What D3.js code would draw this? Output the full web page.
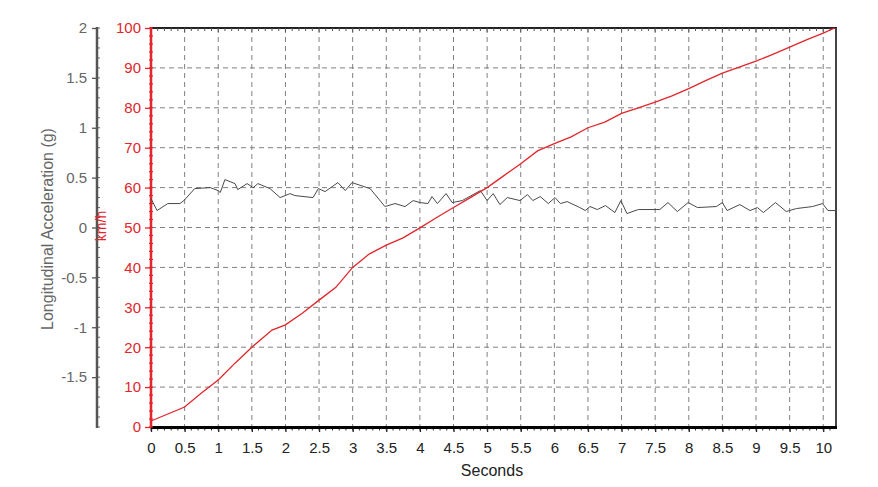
<!DOCTYPE html>
<html>
<head>
<meta charset="utf-8">
<script src="https://cdn.jsdelivr.net/npm/d3@7"></script>
<style>
  html, body { margin: 0; padding: 0; background: #fff; }
  svg { display: block; font-family: "Liberation Sans", Arial, sans-serif; }
</style>
</head>
<body>
<svg id="chart" width="878" height="487"></svg>
<script>
// ---- Data ----
const speedTime = [0, 0.5, 0.75, 1.0, 1.25, 1.5, 1.8, 2.0, 2.25, 2.5, 2.75, 3.0, 3.25, 3.5, 3.75, 4.0, 4.25, 4.5, 4.75, 5.0, 5.25, 5.5, 5.75, 6.0, 6.25, 6.5, 6.75, 7.0, 7.25, 7.5, 7.75, 8.0, 8.25, 8.5, 8.75, 9.0, 9.25, 9.5, 9.75, 10.0, 10.17];
const speedKmh  = [1.5, 5, 8.5, 11.8, 16, 20, 24.3, 25.6, 28.5, 31.8, 35, 40, 43.4, 45.6, 47.4, 49.9, 52.5, 55, 57.5, 60, 63, 66, 69.2, 71, 72.7, 75, 76.4, 78.6, 80, 81.4, 83, 84.8, 86.8, 88.7, 90.2, 91.7, 93.4, 95.2, 97, 98.7, 100];

const accelTime = [0, 0.09, 0.25, 0.43, 0.49, 0.65, 0.88, 1.00, 1.03, 1.10, 1.25, 1.29, 1.43, 1.52, 1.59, 1.77, 1.92, 2.07, 2.14, 2.41, 2.49, 2.59, 2.78, 2.89, 2.99, 3.26, 3.48, 3.63, 3.78, 3.90, 4.00, 4.12, 4.18, 4.26, 4.39, 4.48, 4.63, 4.90, 5.00, 5.09, 5.19, 5.30, 5.49, 5.60, 5.68, 5.79, 5.91, 6.01, 6.09, 6.19, 6.38, 6.46, 6.53, 6.64, 6.76, 6.90, 6.99, 7.08, 7.25, 7.57, 7.69, 7.83, 7.99, 8.13, 8.41, 8.50, 8.57, 8.76, 8.91, 9.02, 9.11, 9.29, 9.45, 9.60, 9.84, 9.99, 10.07, 10.19];
const accelG    = [0.29, 0.17, 0.24, 0.24, 0.27, 0.39, 0.40, 0.37, 0.35, 0.48, 0.44, 0.38, 0.44, 0.40, 0.44, 0.39, 0.30, 0.34, 0.32, 0.30, 0.39, 0.36, 0.45, 0.37, 0.45, 0.39, 0.21, 0.24, 0.21, 0.27, 0.25, 0.24, 0.31, 0.24, 0.34, 0.25, 0.27, 0.37, 0.27, 0.34, 0.23, 0.30, 0.27, 0.33, 0.27, 0.31, 0.24, 0.30, 0.24, 0.26, 0.20, 0.17, 0.21, 0.18, 0.22, 0.15, 0.27, 0.14, 0.18, 0.18, 0.25, 0.16, 0.25, 0.20, 0.21, 0.25, 0.17, 0.23, 0.17, 0.20, 0.15, 0.25, 0.16, 0.19, 0.21, 0.24, 0.17, 0.17];

const xTickValues = [0, 0.5, 1, 1.5, 2, 2.5, 3, 3.5, 4, 4.5, 5, 5.5, 6, 6.5, 7, 7.5, 8, 8.5, 9, 9.5, 10];
const xTickLabels = ["0", "0.5", "1", "1.5", "2", "2.5", "3", "3.5", "4", "4.5", "5", "5.5", "6", "6.5", "7", "7.5", "8", "8.5", "9", "9.5", "10"];
const gTickValues = [2, 1.5, 1, 0.5, 0, -0.5, -1, -1.5];
const gTickLabels = ["2", "1.5", "1", "0.5", "0", "-0.5", "-1", "-1.5"];
const speedTickValues = [0, 10, 20, 30, 40, 50, 60, 70, 80, 90, 100];
const speedTickLabels = ["0", "10", "20", "30", "40", "50", "60", "70", "80", "90", "100"];

const xTitle = "Seconds";
const gTitle = "Longitudinal Acceleration (g)";
const speedTitle = "km/h";

// ---- Layout ----
const svg = d3.select("#chart");
const pLeft = 151, pRight = 836, pTop = 28, pBottom = 427;
const gAxisX = 97;

const x = d3.scaleLinear().domain([0, 10.19]).range([pLeft, pRight]);
const ySpeed = d3.scaleLinear().domain([0, 100]).range([pBottom, pTop]);
const yG = d3.scaleLinear().domain([-2, 2]).range([pBottom, pTop]);

const RED = "#e2262b";
const GRAY_TXT = "#666";

// grid
const grid = svg.append("g");
grid.selectAll("line.v").data(xTickValues.filter(v => v > 0)).join("line")
  .attr("x1", d => x(d)).attr("x2", d => x(d))
  .attr("y1", pTop).attr("y2", pBottom)
  .attr("stroke", "#808080").attr("stroke-width", 1).attr("stroke-dasharray", "5,4");
grid.selectAll("line.h").data(speedTickValues.filter(v => v > 0 && v < 100)).join("line")
  .attr("x1", pLeft).attr("x2", pRight)
  .attr("y1", d => ySpeed(d)).attr("y2", d => ySpeed(d))
  .attr("stroke", "#808080").attr("stroke-width", 1).attr("stroke-dasharray", "5,4");

// borders
svg.append("line").attr("x1", pLeft).attr("x2", pRight + 1).attr("y1", pTop).attr("y2", pTop)
  .attr("stroke", "#222").attr("stroke-width", 2);
svg.append("line").attr("x1", pRight).attr("x2", pRight).attr("y1", pTop).attr("y2", pBottom + 1)
  .attr("stroke", "#444").attr("stroke-width", 2);

// top minor ticks
const minorX = d3.range(0, 102).map(i => i / 10);
svg.append("g").selectAll("line").data(minorX).join("line")
  .attr("x1", d => x(d)).attr("x2", d => x(d))
  .attr("y1", pTop).attr("y2", d => (Math.round(d * 10) % 5 === 0 ? pTop + 4 : pTop + 3))
  .attr("stroke", "#555").attr("stroke-width", 1);

// bottom axis
const xAxis = d3.axisBottom(x).tickValues(xTickValues)
  .tickFormat((d, i) => xTickLabels[i]).tickSize(5).tickPadding(10);
const gx = svg.append("g").attr("transform", `translate(0,${pBottom})`).call(xAxis);
gx.select(".domain").remove();
gx.selectAll(".tick line").attr("stroke", "#222").attr("stroke-width", 1.3);
gx.selectAll(".tick text").attr("fill", "#222").style("font-size", "15px");
gx.append("g").selectAll("line").data(minorX).join("line")
  .attr("x1", d => x(d)).attr("x2", d => x(d)).attr("y1", 0).attr("y2", 3.5)
  .attr("stroke", "#333").attr("stroke-width", 1);
svg.append("line").attr("x1", pLeft).attr("x2", pRight + 1).attr("y1", pBottom + 0.5).attr("y2", pBottom + 0.5)
  .attr("stroke", "#000").attr("stroke-width", 3);

svg.append("text").attr("x", 492).attr("y", 476).attr("text-anchor", "middle")
  .attr("fill", "#222").style("font-size", "16px").text(xTitle);

// g axis (left, gray)
const gAxis = d3.axisLeft(yG).tickValues(gTickValues)
  .tickFormat((d, i) => gTickLabels[i]).tickSize(5).tickPadding(5);
const gg = svg.append("g").attr("transform", `translate(${gAxisX},0)`).call(gAxis);
gg.select(".domain").remove();
gg.selectAll(".tick line").attr("stroke", "#555").attr("stroke-width", 1.3);
gg.selectAll(".tick text").attr("fill", GRAY_TXT).style("font-size", "15px");
gg.append("g").selectAll("line").data(d3.range(-20, 21).map(i => i / 10)).join("line")
  .attr("x1", 0).attr("x2", 3).attr("y1", d => yG(d)).attr("y2", d => yG(d))
  .attr("stroke", "#666").attr("stroke-width", 1);
svg.append("line").attr("x1", gAxisX).attr("x2", gAxisX).attr("y1", pTop - 1).attr("y2", pBottom + 1)
  .attr("stroke", "#555").attr("stroke-width", 2.5);

svg.append("text")
  .attr("transform", `translate(53,229) rotate(-90)`)
  .attr("text-anchor", "middle").attr("fill", GRAY_TXT)
  .style("font-size", "16px").text(gTitle);

// speed axis (red)
const sAxis = d3.axisLeft(ySpeed).tickValues(speedTickValues)
  .tickFormat((d, i) => speedTickLabels[i]).tickSize(6).tickPadding(4);
const gs = svg.append("g").attr("transform", `translate(${pLeft},0)`).call(sAxis);
gs.select(".domain").remove();
gs.selectAll(".tick line").attr("stroke", RED).attr("stroke-width", 1.3);
gs.selectAll(".tick text").attr("fill", RED).style("font-size", "15px");
gs.append("g").selectAll("line").data(d3.range(0, 51).map(i => i * 2)).join("line")
  .attr("x1", -2).attr("x2", 2).attr("y1", d => ySpeed(d)).attr("y2", d => ySpeed(d))
  .attr("stroke", RED).attr("stroke-width", 1.2);
svg.append("line").attr("x1", pLeft).attr("x2", pLeft).attr("y1", pTop - 1).attr("y2", pBottom)
  .attr("stroke", RED).attr("stroke-width", 2.5);

svg.append("text")
  .attr("transform", `translate(106,226) rotate(-90)`)
  .attr("text-anchor", "middle").attr("fill", RED)
  .style("font-size", "14px").text(speedTitle);

// series
const accelData = accelTime.map((t, i) => [t, accelG[i]]);
const speedData = speedTime.map((t, i) => [t, speedKmh[i]]);

svg.append("path").datum(accelData)
  .attr("fill", "none").attr("stroke", "#4a4a4a").attr("stroke-width", 1)
  .attr("d", d3.line().x(d => x(d[0])).y(d => yG(d[1])));

svg.append("path").datum(speedData)
  .attr("fill", "none").attr("stroke", RED).attr("stroke-width", 1.3)
  .attr("d", d3.line().x(d => x(d[0])).y(d => ySpeed(d[1])));
</script>
</body>
</html>
